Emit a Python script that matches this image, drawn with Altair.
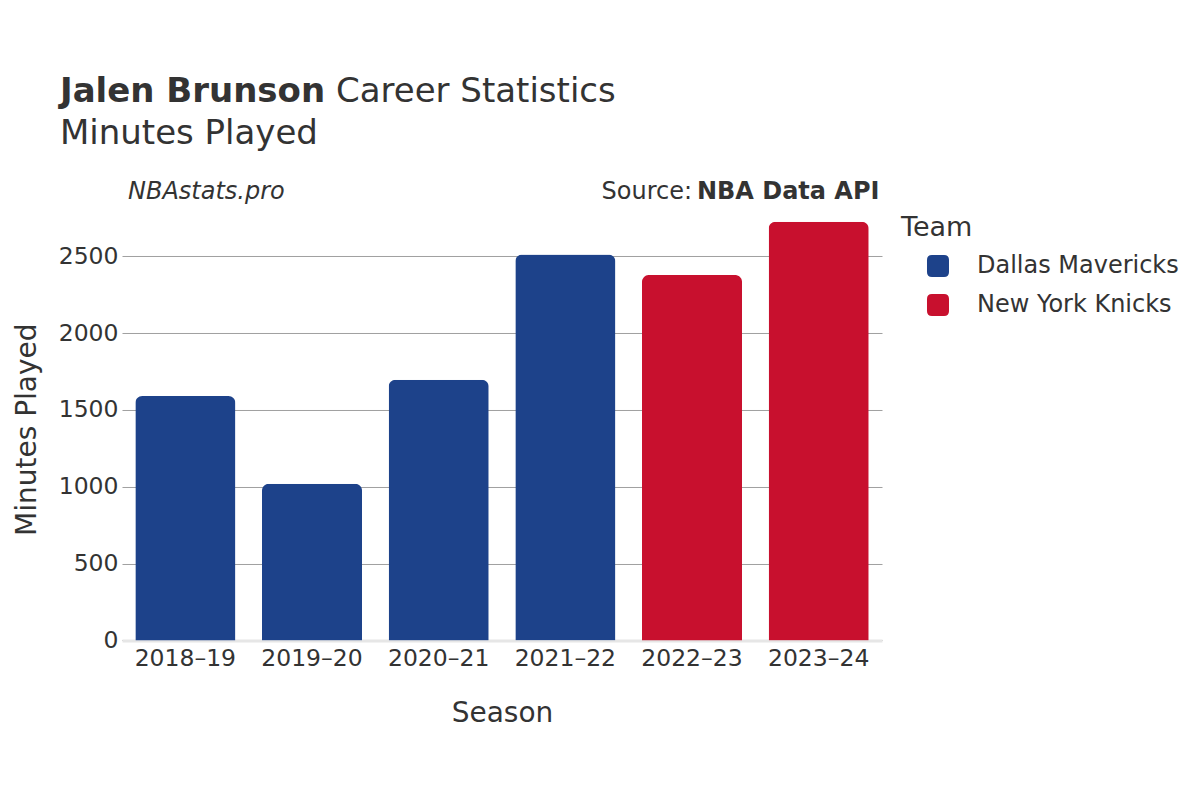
import altair as alt
import pandas as pd

seasons = ["2018–19", "2019–20", "2020–21", "2021–22", "2022–23", "2023–24"]
teams = ["Dallas Mavericks", "Dallas Mavericks", "Dallas Mavericks", "Dallas Mavericks",
         "New York Knicks", "New York Knicks"]
minutes = [1591, 1020, 1697, 2513, 2379, 2726]
team_names = ["Dallas Mavericks", "New York Knicks"]
team_colors = ["#1D428A", "#C8102E"]
y_ticks = [0, 500, 1000, 1500, 2000, 2500]

df = pd.DataFrame({"Season": seasons, "Team": teams, "Minutes": minutes})

FONT = "DejaVu Sans"
TXT = "#333333"
rounded_square = ("M -0.55 -1 H 0.55 Q 1 -1 1 -0.55 V 0.55 Q 1 1 0.55 1 H -0.55 "
                  "Q -1 1 -1 0.55 V -0.55 Q -1 -1 -0.55 -1 Z")

bars = alt.Chart(df).mark_bar(
    cornerRadiusTopLeft=7, cornerRadiusTopRight=7
).encode(
    x=alt.X("Season:N", sort=seasons,
            scale=alt.Scale(paddingInner=0.21, paddingOuter=0.105),
            axis=alt.Axis(title="Season", labelAngle=0, labelFontSize=23.5, titleFontSize=28,
                          labelPadding=6, titlePadding=30, ticks=False, domain=True,
                          domainColor="#e6e6e6", domainWidth=3, grid=False,
                          labelColor=TXT, titleColor=TXT, titleFontWeight="normal")),
    y=alt.Y("Minutes:Q", scale=alt.Scale(domain=[0, 2750], nice=False),
            axis=alt.Axis(title="Minutes Played", values=y_ticks, format="d",
                          labelFontSize=23.5, titleFontSize=28, labelPadding=4,
                          titlePadding=17, ticks=False,
                          domain=False, grid=True, gridColor="#a0a0a0", gridWidth=1,
                          labelColor=TXT, titleColor=TXT, titleFontWeight="normal")),
    color=alt.Color("Team:N",
                    scale=alt.Scale(domain=team_names, range=team_colors),
                    legend=alt.Legend(title=None, orient="none", legendX=804, legendY=36,
                                      symbolType=rounded_square, symbolSize=484,
                                      symbolStrokeWidth=0, labelFontSize=24,
                                      labelColor=TXT, labelOffset=27, rowPadding=15,
                                      labelLimit=0, padding=0)),
)

def txt(s, x, y, size, weight="normal", style="normal", align="left"):
    return alt.Chart(pd.DataFrame({"t": [s]})).mark_text(
        align=align, baseline="alphabetic", fontSize=size, fontWeight=weight,
        fontStyle=style, font=FONT, color=TXT
    ).encode(x=alt.value(x), y=alt.value(y), text="t:N")

title_bold = "Jalen Brunson"
title_rest = "Career Statistics"
subtitle = "Minutes Played"
site = "NBAstats.pro"
source_label = "Source:"
source_name = "NBA Data API"
legend_title = "Team"

chart = alt.layer(
    bars,
    txt(title_bold, -62, -116, 34, weight="bold"),
    txt(title_rest, 214, -116, 34),
    txt(subtitle, -62, -74, 34),
    txt(site, 6, -19, 24, style="italic"),
    txt(source_label, 570, -19, 24, align="right"),
    txt(source_name, 575, -19, 24, weight="bold"),
    txt(legend_title, 779, 18, 27),
).properties(
    width=760, height=422.4,
    padding={"left": 114, "top": 210, "right": 310, "bottom": 150},
    autosize=alt.AutoSizeParams(type="none"),
).configure(font=FONT).configure_view(strokeWidth=0, stroke=None)

chart.save("out.html", embed_options={"renderer": "svg", "actions": False})
